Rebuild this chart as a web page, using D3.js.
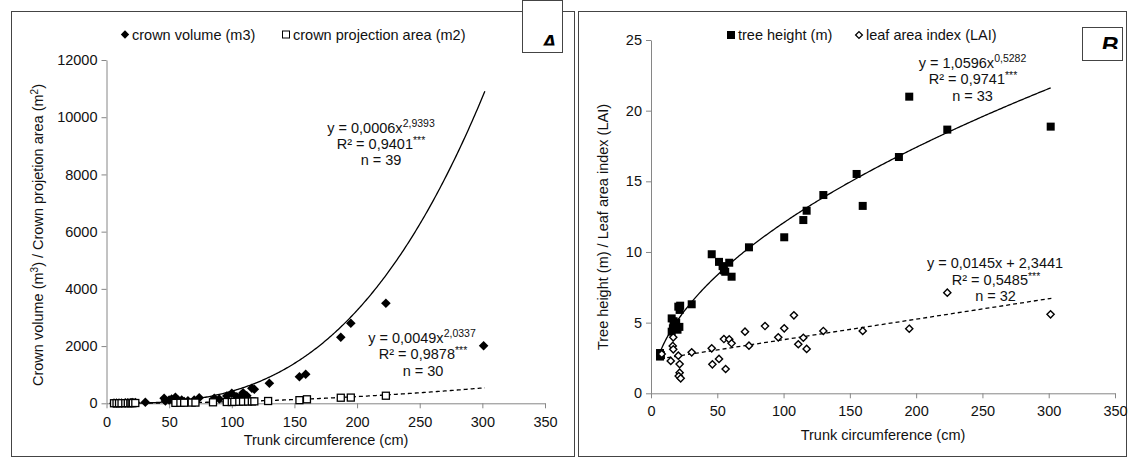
<!DOCTYPE html>
<html>
<head>
<meta charset="utf-8">
<script src="https://cdn.jsdelivr.net/npm/d3@7"></script>
<style>
  html, body { margin: 0; padding: 0; background: #fff; }
  svg { display: block; font-family: "Liberation Sans", Arial, sans-serif; }
</style>
</head>
<body>
<svg id="chart" width="1128" height="461"></svg>
<script>
// ---- Panel A: crown volume and crown projection area vs trunk circumference ----
const volCirc = [6, 8, 10, 12, 15, 17, 19, 20, 21, 23, 31, 46, 47, 50, 52, 55, 57, 60, 62, 65, 70, 74, 86, 90, 96, 100, 104, 108, 109, 112, 116, 118, 130, 154, 159, 187, 195, 223, 301];
const crownVolume = [5, 8, 10, 12, 15, 18, 20, 20, 25, 28, 35, 175, 80, 115, 150, 210, 115, 115, 60, 90, 115, 195, 175, 150, 255, 350, 230, 290, 370, 260, 525, 490, 700, 930, 1014, 2308, 2797, 3497, 2014];
const projCirc = [6, 8, 10, 12, 15, 17, 19, 20, 21, 23, 55, 59, 62, 68, 71, 85, 96, 100, 102, 106, 109, 113, 116, 118, 129, 154, 160, 187, 195, 223];
const crownProjection = [2, 3, 3, 4, 5, 6, 7, 8, 8, 10, 15, 18, 20, 25, 25, 35, 45, 45, 50, 55, 60, 62, 65, 68, 80, 110, 140, 195, 200, 265];
const volumeFit = { a: 0.00056, b: 2.9393 };
const projectionFit = { a: 0.0049, b: 2.0337 };

// ---- Panel B: tree height and leaf area index vs trunk circumference ----
const heightCirc = [6.8, 6.8, 7.5, 15.6, 15.6, 16.5, 17, 18, 19, 20, 21.4, 20.6, 21.6, 22, 30.7, 45.8, 51.3, 54, 55, 56, 59, 60.8, 73.9, 100.5, 114.9, 117.4, 130, 155.1, 159.7, 187, 194.8, 223.5, 301.5];
const treeHeight = [2.6, 2.85, 2.7, 4.36, 5.3, 4.6, 5.1, 4.6, 5.0, 4.5, 4.7, 6.13, 5.9, 6.2, 6.3, 9.84, 9.3, 9.0, 8.7, 8.6, 9.24, 8.25, 10.33, 11.04, 12.26, 12.92, 14.03, 15.52, 13.26, 16.72, 20.99, 18.66, 18.87];
const laiCirc = [8.1, 14.9, 16.4, 16.8, 16.8, 20.6, 21.6, 21.6, 20.9, 22.4, 30.7, 45.8, 46.3, 51.3, 56.3, 55, 59, 60.8, 70.9, 73.9, 86, 96, 100.5, 107.8, 111.1, 114.9, 117.4, 130, 159.7, 194.8, 223.5, 301.4];
const leafAreaIndex = [2.78, 2.29, 3.35, 3.11, 3.96, 2.66, 2.07, 1.46, 1.22, 1.06, 2.9, 3.18, 2.05, 2.43, 1.72, 3.84, 3.82, 3.54, 4.36, 3.37, 4.76, 3.96, 4.6, 5.52, 3.47, 3.93, 3.14, 4.41, 4.41, 4.57, 7.12, 5.59];
const heightFit = { a: 1.0596, b: 0.5282 };
const laiFit = { slope: 0.0145, intercept: 2.3441 };

// ---- Axis ticks ----
const xTicks = [0, 50, 100, 150, 200, 250, 300, 350];
const yTicksA = [0, 2000, 4000, 6000, 8000, 10000, 12000];
const yTicksB = [0, 5, 10, 15, 20, 25];

const svg = d3.select("#chart");
const FONT = 14.5;
const SUP = 10.5;
const INK = "#111";

// panel frames
svg.append("rect").attr("x", 11.5).attr("y", 11.5).attr("width", 563).attr("height", 445)
  .attr("fill", "none").attr("stroke", "#444").attr("stroke-width", 1);
svg.append("rect").attr("x", 578.5).attr("y", 11.5).attr("width", 548).attr("height", 445)
  .attr("fill", "none").attr("stroke", "#444").attr("stroke-width", 1);

function diamondPath(cx, cy, r) {
  return `M${cx},${cy - r}L${cx + r},${cy}L${cx},${cy + r}L${cx - r},${cy}Z`;
}

function label(g, x, y, str, anchor) {
  return g.append("text").attr("x", x).attr("y", y).attr("text-anchor", anchor || "start")
    .style("font-size", FONT + "px").attr("fill", INK).text(str);
}

function drawAxes(g, x, y, yTicks, labelDy) {
  const xa = g.append("g").attr("transform", `translate(0,${y.range()[0]})`)
    .call(d3.axisBottom(x).tickValues(xTicks).tickSize(5).tickSizeOuter(0).tickFormat(d3.format("d")));
  const ya = g.append("g").attr("transform", `translate(${x.range()[0]},0)`)
    .call(d3.axisLeft(y).tickValues(yTicks).tickSize(5).tickSizeOuter(0).tickFormat(d3.format("d")));
  [xa, ya].forEach(a => {
    a.select(".domain").attr("stroke", "#868686");
    a.selectAll(".tick line").attr("stroke", "#868686");
    a.selectAll(".tick text").attr("fill", INK).style("font-size", FONT + "px")
      .style("font-family", "'Liberation Sans', Arial, sans-serif");
  });
  xa.selectAll(".tick text").attr("dy", labelDy);
  ya.selectAll(".tick text").attr("x", -9);
}

function eqLabel(g, cx, y, base, sup) {
  const t = g.append("text").attr("x", cx).attr("y", y).attr("text-anchor", "middle")
    .style("font-size", FONT + "px").attr("fill", INK);
  t.append("tspan").text(base);
  if (sup) t.append("tspan").attr("dy", -6).style("font-size", SUP + "px").text(sup);
}

function r2Label(g, cx, y, value) {
  const t = g.append("text").attr("x", cx).attr("y", y).attr("text-anchor", "middle")
    .style("font-size", FONT + "px").attr("fill", INK);
  t.append("tspan").text("R² = " + value);
  t.append("tspan").attr("dy", -5).style("font-size", SUP + "px").text("***");
}

function panelLetter(letter, box, clipBottom, lx, ly, size) {
  const id = "clip" + letter;
  svg.append("clipPath").attr("id", id).append("rect")
    .attr("x", box.x).attr("y", box.y).attr("width", box.w).attr("height", clipBottom - box.y);
  svg.append("rect").attr("x", box.x + 0.5).attr("y", box.y + 0.5).attr("width", box.w).attr("height", box.h)
    .attr("fill", "#fff").attr("stroke", "#444");
  svg.append("text").attr("clip-path", `url(#${id})`).attr("x", lx).attr("y", ly)
    .attr("text-anchor", "middle")
    .style("font-size", size + "px").style("font-weight", "bold").style("font-style", "italic")
    .attr("fill", "#000").text(letter);
}

// ================= Panel A =================
{
  const x = d3.scaleLinear().domain([0, 350]).range([106.5, 545]);
  const y = d3.scaleLinear().domain([0, 12000]).range([403.3, 60]);
  const g = svg.append("g");
  drawAxes(g, x, y, yTicksA, "1.1em");

  // fitted power curves
  const volLine = d3.line().x(d => x(d)).y(d => y(volumeFit.a * Math.pow(d, volumeFit.b)));
  const projLine = d3.line().x(d => x(d)).y(d => y(projectionFit.a * Math.pow(d, projectionFit.b)));
  const span = d3.range(6, 302.01, 1);
  g.append("path").attr("d", volLine(span)).attr("fill", "none").attr("stroke", "#000").attr("stroke-width", 1.3);
  g.append("path").attr("d", projLine(span)).attr("fill", "none").attr("stroke", "#000")
    .attr("stroke-width", 1.3).attr("stroke-dasharray", "4,3");

  // crown volume: filled diamonds
  g.selectAll(".vol").data(volCirc).join("path")
    .attr("d", (d, i) => diamondPath(x(d), y(crownVolume[i]), 4.8)).attr("fill", "#000");
  // crown projection area: open squares
  g.selectAll(".proj").data(projCirc).join("rect")
    .attr("x", d => x(d) - 3.5).attr("y", (d, i) => y(crownProjection[i]) - 3.5)
    .attr("width", 7).attr("height", 7).attr("fill", "#fff").attr("stroke", "#000").attr("stroke-width", 1.3);

  // equations
  eqLabel(g, 381, 133, "y = 0,0006x", "2,9393");
  r2Label(g, 381, 149, "0,9401");
  eqLabel(g, 381, 165, "n = 39");
  eqLabel(g, 422, 343, "y = 0,0049x", "2,0337");
  r2Label(g, 423, 359, "0,9878");
  eqLabel(g, 423, 376, "n = 30");

  // axis titles
  label(g, 326, 445, "Trunk circumference (cm)", "middle");
  const yt = g.append("text").attr("transform", "translate(43,235) rotate(-90)").attr("text-anchor", "middle")
    .style("font-size", FONT + "px").attr("fill", INK);
  yt.append("tspan").text("Crown volume (m");
  yt.append("tspan").attr("dy", -5).style("font-size", "10px").text("3");
  yt.append("tspan").attr("dy", 5).text(") / Crown projetion area (m");
  yt.append("tspan").attr("dy", -5).style("font-size", "10px").text("2");
  yt.append("tspan").attr("dy", 5).text(")");

  // legend
  g.append("path").attr("d", diamondPath(125, 34.5, 4.2)).attr("fill", "#000");
  label(g, 132, 39.5, "crown volume (m3)");
  g.append("rect").attr("x", 282.5).attr("y", 31).attr("width", 7).attr("height", 7).attr("fill", "#fff").attr("stroke", "#000");
  label(g, 293, 39.5, "crown projection area (m2)");

  panelLetter("A", { x: 522, y: 0, w: 40, h: 52 }, 45.5, 549, 50, 22);
}

// ================= Panel B =================
{
  const x = d3.scaleLinear().domain([0, 350]).range([651, 1115]);
  const y = d3.scaleLinear().domain([0, 25]).range([393.3, 40]);
  const g = svg.append("g");
  drawAxes(g, x, y, yTicksB, "1.0em");

  const span = d3.range(6.5, 302.01, 1);
  const hLine = d3.line().x(d => x(d)).y(d => y(heightFit.a * Math.pow(d, heightFit.b)));
  const lLine = d3.line().x(d => x(d)).y(d => y(laiFit.slope * d + laiFit.intercept));
  g.append("path").attr("d", hLine(span)).attr("fill", "none").attr("stroke", "#000").attr("stroke-width", 1.3);
  g.append("path").attr("d", lLine([7, 302])).attr("fill", "none").attr("stroke", "#000")
    .attr("stroke-width", 1.3).attr("stroke-dasharray", "4,3");

  // tree height: filled squares
  g.selectAll(".h").data(heightCirc).join("rect")
    .attr("x", d => x(d) - 4).attr("y", (d, i) => y(treeHeight[i]) - 4)
    .attr("width", 8).attr("height", 8).attr("fill", "#000");
  // LAI: open diamonds
  g.selectAll(".l").data(laiCirc).join("path")
    .attr("d", (d, i) => diamondPath(x(d), y(leafAreaIndex[i]), 3.6))
    .attr("fill", "#fff").attr("stroke", "#000").attr("stroke-width", 1.4);

  eqLabel(g, 972.5, 68, "y = 1,0596x", "0,5282");
  r2Label(g, 973, 84, "0,9741");
  eqLabel(g, 972.5, 101, "n = 33");
  eqLabel(g, 995, 268, "y = 0,0145x + 2,3441");
  r2Label(g, 996, 285, "0,5485");
  eqLabel(g, 995.5, 301, "n = 32");

  label(g, 883, 440, "Trunk circumference (cm)", "middle");
  g.append("text").attr("transform", "translate(608,227) rotate(-90)").attr("text-anchor", "middle")
    .style("font-size", FONT + "px").attr("fill", INK).text("Tree height (m) / Leaf area index (LAI)");

  g.append("rect").attr("x", 727).attr("y", 31).attr("width", 8).attr("height", 8).attr("fill", "#000");
  label(g, 738, 40, "tree height (m)");
  g.append("path").attr("d", diamondPath(859, 35, 3.4)).attr("fill", "#fff").attr("stroke", "#000").attr("stroke-width", 1.3);
  label(g, 866, 40, "leaf area index (LAI)");

  panelLetter("B", { x: 1082, y: 27, w: 40, h: 33 }, 49, 1110, 54, 24);
}
</script>
</body>
</html>
